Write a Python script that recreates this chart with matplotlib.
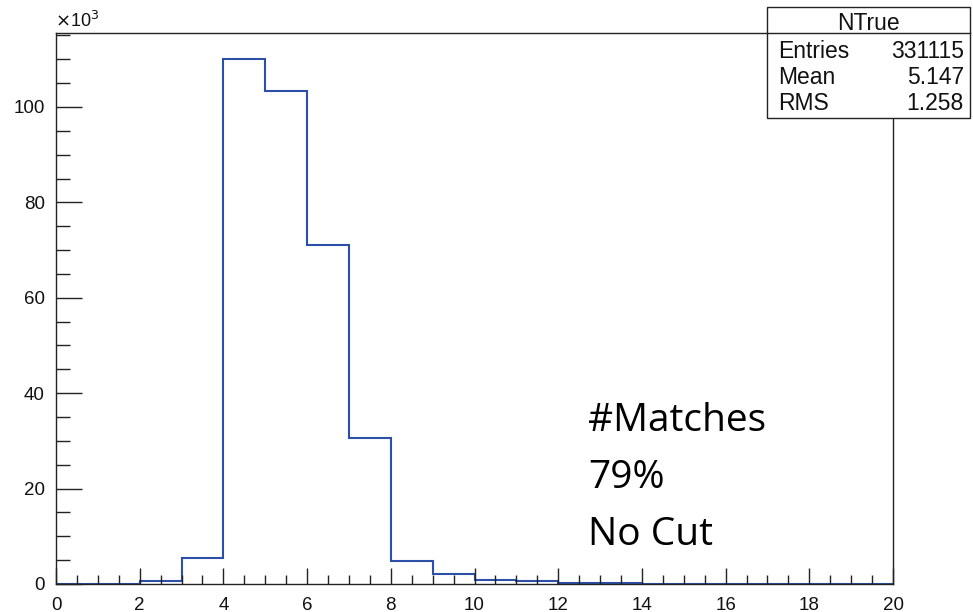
import numpy as np
import matplotlib
matplotlib.use('Agg')
import matplotlib.pyplot as plt
from matplotlib.ticker import MultipleLocator
from matplotlib.patches import Rectangle

# histogram NTrue, integer bins 0..20, counts in units of 10^3
edges = np.arange(0, 21, 1)
counts = [0, 0, 0.6, 5.45, 110.0, 103.4, 71.1, 30.5, 4.9, 2.2,
          0.85, 0.6, 0.3, 0.3, 0, 0, 0, 0, 0, 0]

stat_labels = ['Entries', 'Mean', 'RMS']
stat_values = ['331115', '5.147', '1.258']
note_lines = ['#Matches', '79%', 'No Cut']

plt.rcParams['font.family'] = ['Liberation Sans', 'DejaVu Sans']

W, H = 973, 612
fig = plt.figure(figsize=(W / 100, H / 100), dpi=100)
ax = fig.add_axes([56 / W, (H - 584) / H, (893 - 56) / W, (584 - 33) / H])

ax.stairs(counts, edges, color='#2c4fa8', lw=1.5)

ax.set_xlim(0, 20)
ax.set_ylim(0, 115.5)
ax.xaxis.set_major_locator(MultipleLocator(2))
ax.xaxis.set_minor_locator(MultipleLocator(0.5))
ax.yaxis.set_major_locator(MultipleLocator(20))
ax.yaxis.set_minor_locator(MultipleLocator(5))

for s in ax.spines.values():
    s.set_linewidth(1.0)
    s.set_color('#222222')

ax.tick_params(axis='both', which='both', direction='in', color='#222222',
               width=1.0, labelsize=13.5, labelcolor='#111111')
ax.tick_params(axis='x', which='major', length=11.5, pad=9)
ax.tick_params(axis='x', which='minor', length=6.5)
ax.tick_params(axis='y', which='major', length=18.5, pad=8)
ax.tick_params(axis='y', which='minor', length=10)

fig.text(55 / W, 1 - 27 / H, r'$\times$10$^{3}$', fontsize=13, color='#111111')

# stats box
bx0, bx1, by0, by1 = 767, 970, 7, 118
fig.patches.append(Rectangle((bx0 / W, 1 - by1 / H), (bx1 - bx0) / W, (by1 - by0) / H,
                             transform=fig.transFigure, facecolor='white',
                             edgecolor='#222222', lw=1.0, zorder=5))
fig.add_artist(plt.Line2D([bx0 / W, bx1 / W], [1 - 33 / H, 1 - 33 / H],
                          transform=fig.transFigure, color='#222222', lw=1.0, zorder=6))
fig.text((bx0 + bx1) / 2 / W, 1 - 30 / H, 'NTrue', ha='center', va='baseline',
         fontsize=16.5, color='#111111', zorder=7)
for i, (lab, val) in enumerate(zip(stat_labels, stat_values)):
    yb = 1 - (57.5 + i * 26.3) / H
    fig.text(778 / W, yb, lab, ha='left', va='baseline', fontsize=16.5, color='#111111', zorder=7)
    fig.text(964 / W, yb, val, ha='right', va='baseline', fontsize=16.5, color='#111111', zorder=7)

# annotation
for i, line in enumerate(note_lines):
    fig.text(588 / W, 1 - (431 + i * 57) / H, line, ha='left', va='baseline',
             fontsize=28, family=['Open Sans', 'DejaVu Sans'], color='black')

fig.savefig('out.png', dpi=100)
